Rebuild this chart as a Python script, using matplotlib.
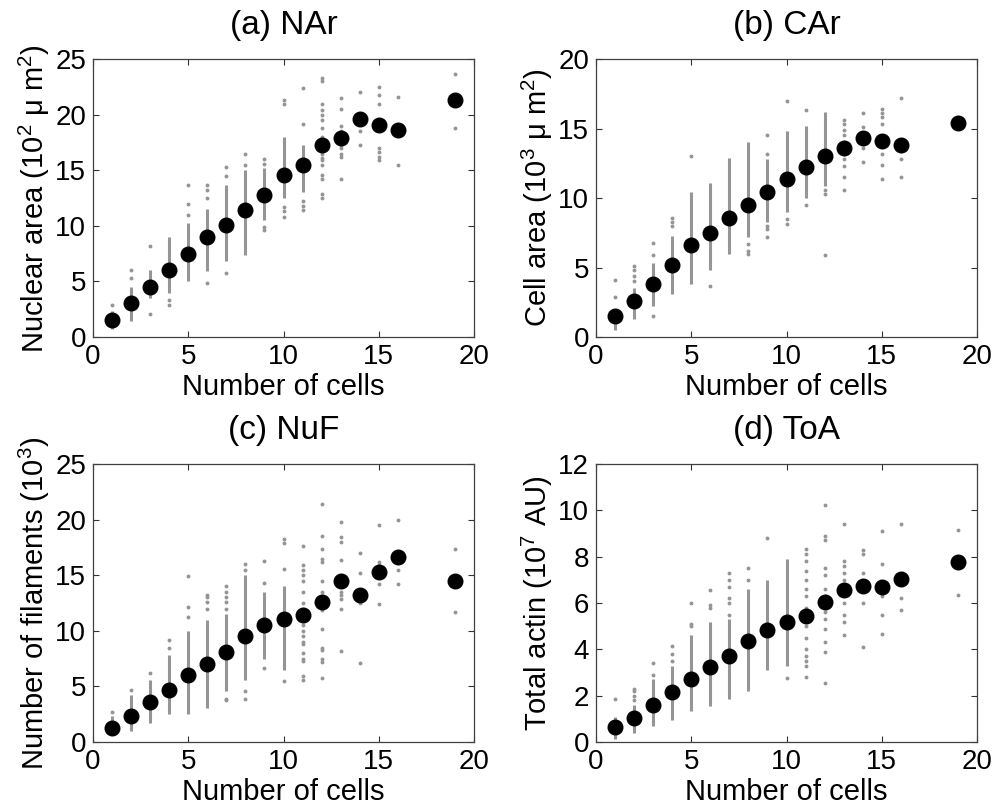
import matplotlib.pyplot as plt

plt.rcParams['font.family'] = ['Liberation Sans', 'DejaVu Sans']
plt.rcParams['mathtext.fontset'] = 'custom'
plt.rcParams['mathtext.rm'] = 'Liberation Sans'
plt.rcParams['mathtext.it'] = 'Liberation Sans:italic'

cells = [1, 2, 3, 4, 5, 6, 7, 8, 9, 10, 11, 12, 13, 14, 15, 16, 19]

# (a) nuclear area, 10^2 um^2
nar_mean = [1.5, 3.1, 4.5, 6.0, 7.5, 9.0, 10.1, 11.4, 12.8, 14.6, 15.5, 17.3, 17.9, 19.6, 19.1, 18.6, 21.3]
nar_span_x = [1, 2, 3, 4, 5, 6, 7, 8, 9, 10, 11]
nar_span_lo = [0.7, 1.4, 3.5, 4.0, 5.0, 5.9, 6.8, 7.4, 10.5, 12.5, 13.0]
nar_span_hi = [2.3, 4.5, 6.0, 9.0, 10.3, 11.5, 13.7, 15.0, 15.2, 18.0, 17.3]
nar_pts = {
    1: [2.9], 2: [5.3, 6.0], 3: [2.1, 8.2], 4: [2.9, 3.3],
    5: [11.0, 12.0, 13.7], 6: [4.9, 12.5, 13.2, 13.7], 7: [5.8, 14.5, 15.3],
    8: [15.5, 16.5], 9: [9.6, 9.9, 15.6, 16.0], 10: [10.8, 11.3, 11.7, 21.0, 21.3],
    11: [11.4, 11.8, 12.2, 19.2, 22.4],
    12: [12.5, 12.9, 14.2, 14.6, 15.5, 15.9, 16.1, 16.5, 18.0, 18.8, 19.5, 20.0, 20.4, 21.0, 23.0, 23.3],
    13: [14.2, 16.2, 16.5, 17.0, 17.3, 18.5, 19.0, 20.5, 21.5],
    14: [17.3, 18.5, 20.1, 22.0],
    15: [15.9, 16.2, 16.6, 17.0, 19.0, 21.0, 21.8, 22.5],
    16: [15.5, 21.6], 19: [18.8, 23.7],
}

# (b) cell area, 10^3 um^2
car_mean = [1.5, 2.6, 3.8, 5.2, 6.6, 7.5, 8.6, 9.5, 10.4, 11.4, 12.2, 13.0, 13.6, 14.3, 14.1, 13.8, 15.4]
car_span_x = [1, 2, 3, 4, 5, 6, 7, 8, 9, 10, 11, 12]
car_span_lo = [0.5, 1.3, 2.2, 3.1, 3.8, 4.8, 6.0, 7.2, 8.3, 9.0, 10.0, 10.9]
car_span_hi = [2.0, 3.5, 5.3, 7.3, 10.4, 11.1, 12.9, 14.0, 12.8, 14.8, 15.2, 16.2]
car_pts = {
    1: [2.9, 4.1], 2: [4.0, 4.4, 4.8, 5.1], 3: [1.5, 5.9, 6.8], 4: [8.0, 8.3, 8.6],
    5: [13.0], 6: [3.7], 8: [6.0, 6.2, 6.7], 9: [7.2, 7.8, 8.0, 13.2, 14.5],
    10: [8.1, 8.5, 17.0], 11: [9.5, 16.3], 12: [5.9, 10.3, 10.6],
    13: [10.6, 11.5, 12.3, 12.8, 13.2, 14.0, 14.5, 14.9, 15.3, 15.6],
    14: [12.6, 13.6, 14.5, 15.1, 16.1],
    15: [11.4, 12.4, 13.2, 15.3, 15.8, 16.1, 16.4],
    16: [11.5, 12.8, 13.4, 17.2],
}

# (c) number of filaments, 10^3
nuf_mean = [1.3, 2.3, 3.6, 4.7, 6.0, 7.0, 8.1, 9.5, 10.5, 11.1, 11.4, 12.6, 14.5, 13.2, 15.3, 16.6, 14.5]
nuf_span_x = [1, 2, 3, 4, 5, 6, 7, 8, 9, 10]
nuf_span_lo = [0.6, 1.0, 1.7, 2.5, 2.5, 3.1, 4.6, 5.6, 7.5, 6.5]
nuf_span_hi = [2.3, 4.2, 5.6, 7.8, 10.0, 11.0, 11.5, 15.0, 13.5, 14.0]
nuf_pts = {
    1: [2.7], 2: [4.7], 3: [6.2], 4: [8.5, 9.2], 5: [11.2, 12.1, 14.9],
    6: [12.0, 12.6, 13.0, 13.2], 7: [3.8, 3.9, 12.0, 12.6, 13.0, 13.5, 14.0],
    8: [3.9, 4.6, 15.5, 16.0], 9: [6.7, 14.3, 16.3], 10: [5.5, 15.6, 17.9, 18.3],
    11: [5.6, 5.9, 7.3, 7.5, 8.0, 8.8, 9.0, 9.5, 10.0, 10.5, 11.0, 12.0, 12.5, 13.5,
         14.5, 15.0, 15.5, 15.9, 17.6],
    12: [5.8, 7.2, 7.5, 8.3, 8.5, 10.2, 11.9, 12.5, 13.5, 14.5, 16.2, 16.5, 17.4, 18.5, 21.4],
    13: [8.2, 12.0, 12.9, 13.2, 13.5, 16.4, 18.0, 18.4, 19.8],
    14: [7.1, 12.5, 15.2, 17.0],
    15: [12.4, 14.2, 15.9, 16.2, 19.5],
    16: [14.2, 15.5, 20.0], 19: [11.7, 17.4],
}

# (d) total actin, 10^7 AU
toa_mean = [0.65, 1.05, 1.6, 2.15, 2.7, 3.25, 3.7, 4.35, 4.85, 5.2, 5.45, 6.05, 6.55, 6.75, 6.7, 7.05, 7.75]
toa_span_x = [1, 2, 3, 4, 5, 6, 7, 8, 9, 10]
toa_span_lo = [0.15, 0.4, 0.7, 0.95, 1.35, 1.55, 1.85, 2.2, 3.1, 3.3]
toa_span_hi = [1.1, 1.6, 2.7, 3.3, 4.6, 5.2, 5.3, 6.6, 7.0, 7.9]
toa_pts = {
    1: [1.85], 2: [1.8, 2.0, 2.2, 2.3], 3: [2.9, 3.4], 4: [3.5, 3.8, 4.15],
    5: [5.0, 5.1, 6.0], 6: [5.8, 5.9, 6.55], 7: [5.5, 6.0, 6.2, 6.7, 7.0, 7.3],
    8: [7.0, 7.5], 9: [8.8], 10: [2.75],
    11: [2.8, 3.3, 3.5, 3.7, 4.0, 4.5, 5.0, 5.3, 5.8, 6.3, 6.6, 7.0, 7.4, 7.8, 8.1, 8.35],
    12: [2.55, 3.9, 4.3, 4.9, 5.3, 5.6, 6.3, 6.6, 7.2, 7.5, 8.7, 8.9, 10.25],
    13: [4.6, 5.2, 5.5, 6.0, 7.0, 7.3, 7.6, 7.8, 9.4],
    14: [4.1, 6.0, 7.3, 8.1, 8.3],
    15: [4.65, 5.5, 6.3, 7.7, 9.1],
    16: [5.7, 6.2, 9.4], 19: [6.35, 9.15],
}

GRAY = '#959595'


def draw_panel(ax, mean, span_x, lo, hi, pts, ymax, ystep, title, ylabel):
    # dense columns of single-cell values drawn as a gray strip, sparse ones as dots
    ax.vlines(span_x, lo, hi, color=GRAY, lw=2.2, zorder=1)
    for x, ys in pts.items():
        ax.plot([x] * len(ys), ys, 'o', color=GRAY, ms=2.8, mec='none', zorder=2)
    ax.plot(cells, mean, 'o', color='black', ms=10.5, zorder=3)
    ax.set_xlim(0, 20)
    ax.set_ylim(0, ymax)
    ax.set_xticks([0, 5, 10, 15, 20])
    ax.set_yticks(list(range(0, ymax + 1, ystep)))
    ax.tick_params(direction='in', top=True, right=True, length=4, width=0.8,
                   labelsize=20, pad=5, color='#333333')
    for s in ax.spines.values():
        s.set_color('#404040')
        s.set_linewidth(0.9)
    ax.set_title(title, fontsize=24, pad=18)
    ax.set_xlabel('Number of cells', fontsize=21, labelpad=2)
    ax.set_ylabel(ylabel, fontsize=21, labelpad=2)


fig = plt.figure(figsize=(10.03, 8.09), dpi=100)
axa = fig.add_axes([0.0927, 0.5834, 0.380, 0.3436])
axb = fig.add_axes([0.5942, 0.5834, 0.380, 0.3436])
axc = fig.add_axes([0.0927, 0.0828, 0.380, 0.3436])
axd = fig.add_axes([0.5942, 0.0828, 0.380, 0.3436])

draw_panel(axa, nar_mean, nar_span_x, nar_span_lo, nar_span_hi, nar_pts, 25, 5,
           '(a) NAr', r'Nuclear area (10$^{2}$ μ m$^{2}$)')
draw_panel(axb, car_mean, car_span_x, car_span_lo, car_span_hi, car_pts, 20, 5,
           '(b) CAr', r'Cell area (10$^{3}$ μ m$^{2}$)')
draw_panel(axc, nuf_mean, nuf_span_x, nuf_span_lo, nuf_span_hi, nuf_pts, 25, 5,
           '(c) NuF', r'Number of filaments (10$^{3}$)')
draw_panel(axd, toa_mean, toa_span_x, toa_span_lo, toa_span_hi, toa_pts, 12, 2,
           '(d) ToA', r'Total actin (10$^{7}$ AU)')

fig.savefig('out.png', dpi=100)
